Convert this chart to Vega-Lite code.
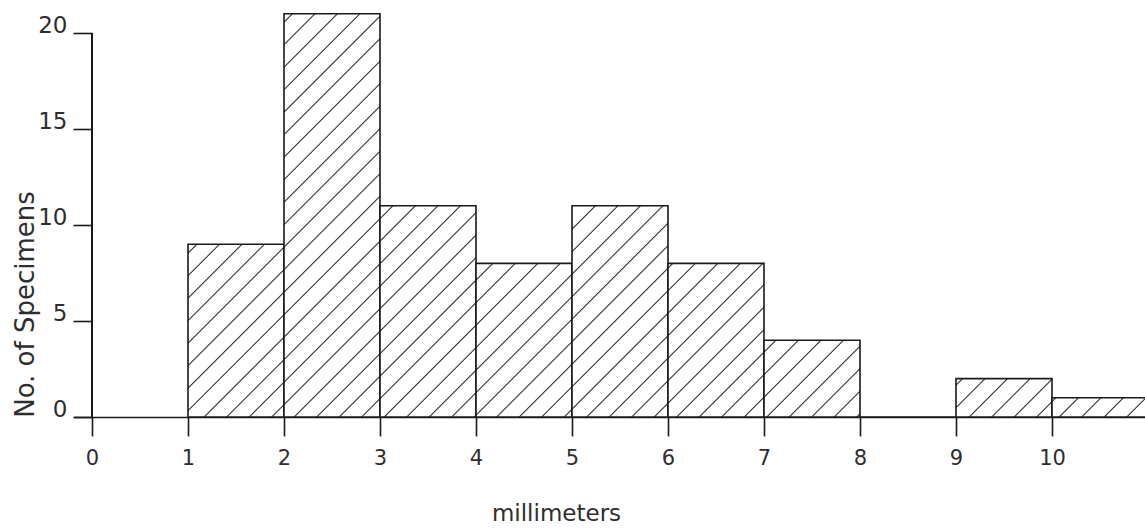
{
  "$schema": "https://vega.github.io/schema/vega-lite/v6.json",
  "width": 1071,
  "height": 413,
  "autosize": {"type": "none"},
  "padding": {"left": 74, "top": 4, "right": 0, "bottom": 115},
  "background": "white",
  "config": {
    "view": {"stroke": null},
    "axis": {
      "grid": false,
      "labelFont": "DejaVu Sans",
      "titleFont": "DejaVu Sans",
      "labelColor": "#2e2e2e",
      "titleColor": "#2e2e2e",
      "tickColor": "#1a1a1a",
      "domainColor": "#1a1a1a",
      "tickWidth": 1.6,
      "domainWidth": 1.6,
      "labelFontWeight": "normal",
      "titleFontWeight": "normal"
    }
  },
  "data": {
    "values": [
      {"start": 1, "end": 2, "count": 9},
      {"start": 2, "end": 3, "count": 21},
      {"start": 3, "end": 4, "count": 11},
      {"start": 4, "end": 5, "count": 8},
      {"start": 5, "end": 6, "count": 11},
      {"start": 6, "end": 7, "count": 8},
      {"start": 7, "end": 8, "count": 4},
      {"start": 8, "end": 9, "count": 0},
      {"start": 9, "end": 10, "count": 2},
      {"start": 10, "end": 11, "count": 1}
    ]
  },
  "layer": [
    {
      "mark": {"type": "bar", "stroke": "#1a1a1a", "strokeWidth": 1.6, "clip": true},
      "encoding": {
        "x": {
          "field": "start",
          "type": "quantitative",
          "scale": {"domain": [-0.1875, 10.96875], "nice": false, "zero": false},
          "axis": {
            "values": [0, 1, 2, 3, 4, 5, 6, 7, 8, 9, 10],
            "format": "d",
            "title": "millimeters",
            "tickSize": 19,
            "labelPadding": 11,
            "labelFontSize": 21,
            "labelFlush": false,
            "titleFontSize": 23,
            "titleX": 482,
            "titleY": 103,
            "titleBaseline": "alphabetic",
            "titleAlign": "center"
          }
        },
        "x2": {"field": "end"},
        "y": {
          "field": "count",
          "type": "quantitative",
          "scale": {"domain": [0, 21.5104167], "nice": false},
          "axis": {
            "values": [0, 5, 10, 15, 20],
            "format": "d",
            "title": "No. of Specimens",
            "domain": false,
            "offset": -18,
            "tickSize": 19,
            "labelPadding": 6,
            "labelOffset": -8,
            "labelFontSize": 23,
            "titleFontSize": 26,
            "titleX": -59,
            "titleY": 300,
            "titleAngle": 270,
            "titleBaseline": "alphabetic",
            "titleAlign": "center"
          }
        },
        "y2": {"datum": 0},
        "fill": {
          "condition": [
            {"test": "datum.start === 1", "value": {"gradient": "linear", "x1": 0, "y1": 0, "x2": 0.66038, "y2": 1.18868, "stops": [
              {"offset": 0.0283, "color": "white"}, {"offset": 0.0335, "color": "#1e1e1e"}, {"offset": 0.0387, "color": "white"},
              {"offset": 0.1120, "color": "white"}, {"offset": 0.1172, "color": "#1e1e1e"}, {"offset": 0.1224, "color": "white"},
              {"offset": 0.1957, "color": "white"}, {"offset": 0.2009, "color": "#1e1e1e"}, {"offset": 0.2061, "color": "white"},
              {"offset": 0.2794, "color": "white"}, {"offset": 0.2846, "color": "#1e1e1e"}, {"offset": 0.2898, "color": "white"},
              {"offset": 0.3631, "color": "white"}, {"offset": 0.3683, "color": "#1e1e1e"}, {"offset": 0.3735, "color": "white"},
              {"offset": 0.4468, "color": "white"}, {"offset": 0.4520, "color": "#1e1e1e"}, {"offset": 0.4572, "color": "white"},
              {"offset": 0.5305, "color": "white"}, {"offset": 0.5357, "color": "#1e1e1e"}, {"offset": 0.5409, "color": "white"},
              {"offset": 0.6142, "color": "white"}, {"offset": 0.6194, "color": "#1e1e1e"}, {"offset": 0.6246, "color": "white"},
              {"offset": 0.6979, "color": "white"}, {"offset": 0.7031, "color": "#1e1e1e"}, {"offset": 0.7083, "color": "white"},
              {"offset": 0.7816, "color": "white"}, {"offset": 0.7868, "color": "#1e1e1e"}, {"offset": 0.7920, "color": "white"},
              {"offset": 0.8653, "color": "white"}, {"offset": 0.8705, "color": "#1e1e1e"}, {"offset": 0.8757, "color": "white"},
              {"offset": 0.9490, "color": "white"}, {"offset": 0.9542, "color": "#1e1e1e"}, {"offset": 0.9594, "color": "white"}
            ]}},
            {"test": "datum.start === 2", "value": {"gradient": "linear", "x1": 0, "y1": 0, "x2": 0.27897, "y2": 1.17167, "stops": [
              {"offset": 0.0140, "color": "white"}, {"offset": 0.0168, "color": "#1e1e1e"}, {"offset": 0.0196, "color": "white"},
              {"offset": 0.0591, "color": "white"}, {"offset": 0.0619, "color": "#1e1e1e"}, {"offset": 0.0647, "color": "white"},
              {"offset": 0.1042, "color": "white"}, {"offset": 0.1070, "color": "#1e1e1e"}, {"offset": 0.1098, "color": "white"},
              {"offset": 0.1492, "color": "white"}, {"offset": 0.1520, "color": "#1e1e1e"}, {"offset": 0.1548, "color": "white"},
              {"offset": 0.1943, "color": "white"}, {"offset": 0.1971, "color": "#1e1e1e"}, {"offset": 0.1999, "color": "white"},
              {"offset": 0.2394, "color": "white"}, {"offset": 0.2422, "color": "#1e1e1e"}, {"offset": 0.2450, "color": "white"},
              {"offset": 0.2845, "color": "white"}, {"offset": 0.2873, "color": "#1e1e1e"}, {"offset": 0.2901, "color": "white"},
              {"offset": 0.3295, "color": "white"}, {"offset": 0.3323, "color": "#1e1e1e"}, {"offset": 0.3351, "color": "white"},
              {"offset": 0.3746, "color": "white"}, {"offset": 0.3774, "color": "#1e1e1e"}, {"offset": 0.3802, "color": "white"},
              {"offset": 0.4197, "color": "white"}, {"offset": 0.4225, "color": "#1e1e1e"}, {"offset": 0.4253, "color": "white"},
              {"offset": 0.4648, "color": "white"}, {"offset": 0.4676, "color": "#1e1e1e"}, {"offset": 0.4704, "color": "white"},
              {"offset": 0.5098, "color": "white"}, {"offset": 0.5126, "color": "#1e1e1e"}, {"offset": 0.5154, "color": "white"},
              {"offset": 0.5549, "color": "white"}, {"offset": 0.5577, "color": "#1e1e1e"}, {"offset": 0.5605, "color": "white"},
              {"offset": 0.6000, "color": "white"}, {"offset": 0.6028, "color": "#1e1e1e"}, {"offset": 0.6056, "color": "white"},
              {"offset": 0.6450, "color": "white"}, {"offset": 0.6478, "color": "#1e1e1e"}, {"offset": 0.6506, "color": "white"},
              {"offset": 0.6901, "color": "white"}, {"offset": 0.6929, "color": "#1e1e1e"}, {"offset": 0.6957, "color": "white"},
              {"offset": 0.7352, "color": "white"}, {"offset": 0.7380, "color": "#1e1e1e"}, {"offset": 0.7408, "color": "white"},
              {"offset": 0.7803, "color": "white"}, {"offset": 0.7831, "color": "#1e1e1e"}, {"offset": 0.7859, "color": "white"},
              {"offset": 0.8253, "color": "white"}, {"offset": 0.8281, "color": "#1e1e1e"}, {"offset": 0.8309, "color": "white"},
              {"offset": 0.8704, "color": "white"}, {"offset": 0.8732, "color": "#1e1e1e"}, {"offset": 0.8760, "color": "white"},
              {"offset": 0.9155, "color": "white"}, {"offset": 0.9183, "color": "#1e1e1e"}, {"offset": 0.9211, "color": "white"},
              {"offset": 0.9605, "color": "white"}, {"offset": 0.9633, "color": "#1e1e1e"}, {"offset": 0.9661, "color": "white"}
            ]}},
            {"test": "datum.start === 3", "value": {"gradient": "linear", "x1": 0, "y1": 0, "x2": 0.54795, "y2": 1.20548, "stops": [
              {"offset": 0.0374, "color": "white"}, {"offset": 0.0420, "color": "#1e1e1e"}, {"offset": 0.0466, "color": "white"},
              {"offset": 0.1106, "color": "white"}, {"offset": 0.1152, "color": "#1e1e1e"}, {"offset": 0.1198, "color": "white"},
              {"offset": 0.1839, "color": "white"}, {"offset": 0.1885, "color": "#1e1e1e"}, {"offset": 0.1931, "color": "white"},
              {"offset": 0.2571, "color": "white"}, {"offset": 0.2617, "color": "#1e1e1e"}, {"offset": 0.2663, "color": "white"},
              {"offset": 0.3304, "color": "white"}, {"offset": 0.3350, "color": "#1e1e1e"}, {"offset": 0.3396, "color": "white"},
              {"offset": 0.4036, "color": "white"}, {"offset": 0.4082, "color": "#1e1e1e"}, {"offset": 0.4128, "color": "white"},
              {"offset": 0.4768, "color": "white"}, {"offset": 0.4814, "color": "#1e1e1e"}, {"offset": 0.4860, "color": "white"},
              {"offset": 0.5501, "color": "white"}, {"offset": 0.5547, "color": "#1e1e1e"}, {"offset": 0.5593, "color": "white"},
              {"offset": 0.6233, "color": "white"}, {"offset": 0.6279, "color": "#1e1e1e"}, {"offset": 0.6325, "color": "white"},
              {"offset": 0.6966, "color": "white"}, {"offset": 0.7012, "color": "#1e1e1e"}, {"offset": 0.7058, "color": "white"},
              {"offset": 0.7698, "color": "white"}, {"offset": 0.7744, "color": "#1e1e1e"}, {"offset": 0.7790, "color": "white"},
              {"offset": 0.8431, "color": "white"}, {"offset": 0.8477, "color": "#1e1e1e"}, {"offset": 0.8523, "color": "white"},
              {"offset": 0.9163, "color": "white"}, {"offset": 0.9209, "color": "#1e1e1e"}, {"offset": 0.9255, "color": "white"},
              {"offset": 0.9895, "color": "white"}, {"offset": 0.9941, "color": "#1e1e1e"}, {"offset": 0.9987, "color": "white"}
            ]}},
            {"test": "datum.start === 4", "value": {"gradient": "linear", "x1": 0, "y1": 0, "x2": 0.73034, "y2": 1.16854, "stops": [
              {"offset": 0.0617, "color": "white"}, {"offset": 0.0673, "color": "#1e1e1e"}, {"offset": 0.0729, "color": "white"},
              {"offset": 0.1518, "color": "white"}, {"offset": 0.1574, "color": "#1e1e1e"}, {"offset": 0.1630, "color": "white"},
              {"offset": 0.2420, "color": "white"}, {"offset": 0.2476, "color": "#1e1e1e"}, {"offset": 0.2532, "color": "white"},
              {"offset": 0.3321, "color": "white"}, {"offset": 0.3377, "color": "#1e1e1e"}, {"offset": 0.3433, "color": "white"},
              {"offset": 0.4223, "color": "white"}, {"offset": 0.4279, "color": "#1e1e1e"}, {"offset": 0.4335, "color": "white"},
              {"offset": 0.5124, "color": "white"}, {"offset": 0.5180, "color": "#1e1e1e"}, {"offset": 0.5236, "color": "white"},
              {"offset": 0.6026, "color": "white"}, {"offset": 0.6082, "color": "#1e1e1e"}, {"offset": 0.6138, "color": "white"},
              {"offset": 0.6927, "color": "white"}, {"offset": 0.6983, "color": "#1e1e1e"}, {"offset": 0.7039, "color": "white"},
              {"offset": 0.7829, "color": "white"}, {"offset": 0.7885, "color": "#1e1e1e"}, {"offset": 0.7941, "color": "white"},
              {"offset": 0.8730, "color": "white"}, {"offset": 0.8786, "color": "#1e1e1e"}, {"offset": 0.8842, "color": "white"},
              {"offset": 0.9632, "color": "white"}, {"offset": 0.9688, "color": "#1e1e1e"}, {"offset": 0.9744, "color": "white"}
            ]}},
            {"test": "datum.start === 5", "value": {"gradient": "linear", "x1": 0, "y1": 0, "x2": 0.54795, "y2": 1.20548, "stops": [
              {"offset": 0.0716, "color": "white"}, {"offset": 0.0762, "color": "#1e1e1e"}, {"offset": 0.0808, "color": "white"},
              {"offset": 0.1448, "color": "white"}, {"offset": 0.1494, "color": "#1e1e1e"}, {"offset": 0.1540, "color": "white"},
              {"offset": 0.2181, "color": "white"}, {"offset": 0.2227, "color": "#1e1e1e"}, {"offset": 0.2273, "color": "white"},
              {"offset": 0.2913, "color": "white"}, {"offset": 0.2959, "color": "#1e1e1e"}, {"offset": 0.3005, "color": "white"},
              {"offset": 0.3646, "color": "white"}, {"offset": 0.3691, "color": "#1e1e1e"}, {"offset": 0.3737, "color": "white"},
              {"offset": 0.4378, "color": "white"}, {"offset": 0.4424, "color": "#1e1e1e"}, {"offset": 0.4470, "color": "white"},
              {"offset": 0.5110, "color": "white"}, {"offset": 0.5156, "color": "#1e1e1e"}, {"offset": 0.5202, "color": "white"},
              {"offset": 0.5843, "color": "white"}, {"offset": 0.5889, "color": "#1e1e1e"}, {"offset": 0.5935, "color": "white"},
              {"offset": 0.6575, "color": "white"}, {"offset": 0.6621, "color": "#1e1e1e"}, {"offset": 0.6667, "color": "white"},
              {"offset": 0.7308, "color": "white"}, {"offset": 0.7354, "color": "#1e1e1e"}, {"offset": 0.7400, "color": "white"},
              {"offset": 0.8040, "color": "white"}, {"offset": 0.8086, "color": "#1e1e1e"}, {"offset": 0.8132, "color": "white"},
              {"offset": 0.8772, "color": "white"}, {"offset": 0.8818, "color": "#1e1e1e"}, {"offset": 0.8864, "color": "white"},
              {"offset": 0.9505, "color": "white"}, {"offset": 0.9551, "color": "#1e1e1e"}, {"offset": 0.9597, "color": "white"}
            ]}},
            {"test": "datum.start === 6", "value": {"gradient": "linear", "x1": 0, "y1": 0, "x2": 0.73034, "y2": 1.16854, "stops": [
              {"offset": 0.0136, "color": "white"}, {"offset": 0.0192, "color": "#1e1e1e"}, {"offset": 0.0248, "color": "white"},
              {"offset": 0.1038, "color": "white"}, {"offset": 0.1094, "color": "#1e1e1e"}, {"offset": 0.1150, "color": "white"},
              {"offset": 0.1939, "color": "white"}, {"offset": 0.1995, "color": "#1e1e1e"}, {"offset": 0.2051, "color": "white"},
              {"offset": 0.2841, "color": "white"}, {"offset": 0.2897, "color": "#1e1e1e"}, {"offset": 0.2953, "color": "white"},
              {"offset": 0.3742, "color": "white"}, {"offset": 0.3798, "color": "#1e1e1e"}, {"offset": 0.3854, "color": "white"},
              {"offset": 0.4644, "color": "white"}, {"offset": 0.4700, "color": "#1e1e1e"}, {"offset": 0.4756, "color": "white"},
              {"offset": 0.5545, "color": "white"}, {"offset": 0.5601, "color": "#1e1e1e"}, {"offset": 0.5657, "color": "white"},
              {"offset": 0.6447, "color": "white"}, {"offset": 0.6502, "color": "#1e1e1e"}, {"offset": 0.6558, "color": "white"},
              {"offset": 0.7348, "color": "white"}, {"offset": 0.7404, "color": "#1e1e1e"}, {"offset": 0.7460, "color": "white"},
              {"offset": 0.8249, "color": "white"}, {"offset": 0.8305, "color": "#1e1e1e"}, {"offset": 0.8361, "color": "white"},
              {"offset": 0.9151, "color": "white"}, {"offset": 0.9207, "color": "#1e1e1e"}, {"offset": 0.9263, "color": "white"}
            ]}},
            {"test": "datum.start === 7", "value": {"gradient": "linear", "x1": 0, "y1": 0, "x2": 1.09756, "y2": 0.87805, "stops": [
              {"offset": 0.0613, "color": "white"}, {"offset": 0.0694, "color": "#1e1e1e"}, {"offset": 0.0775, "color": "white"},
              {"offset": 0.1915, "color": "white"}, {"offset": 0.1997, "color": "#1e1e1e"}, {"offset": 0.2078, "color": "white"},
              {"offset": 0.3218, "color": "white"}, {"offset": 0.3299, "color": "#1e1e1e"}, {"offset": 0.3380, "color": "white"},
              {"offset": 0.4520, "color": "white"}, {"offset": 0.4601, "color": "#1e1e1e"}, {"offset": 0.4682, "color": "white"},
              {"offset": 0.5822, "color": "white"}, {"offset": 0.5903, "color": "#1e1e1e"}, {"offset": 0.5984, "color": "white"},
              {"offset": 0.7124, "color": "white"}, {"offset": 0.7205, "color": "#1e1e1e"}, {"offset": 0.7286, "color": "white"},
              {"offset": 0.8426, "color": "white"}, {"offset": 0.8507, "color": "#1e1e1e"}, {"offset": 0.8588, "color": "white"},
              {"offset": 0.9728, "color": "white"}, {"offset": 0.9809, "color": "#1e1e1e"}, {"offset": 0.9890, "color": "white"}
            ]}},
            {"test": "datum.start === 9", "value": {"gradient": "linear", "x1": 0, "y1": 0, "x2": 1.20690, "y2": 0.48276, "stops": [
              {"offset": 0.0387, "color": "white"}, {"offset": 0.0491, "color": "#1e1e1e"}, {"offset": 0.0595, "color": "white"},
              {"offset": 0.2061, "color": "white"}, {"offset": 0.2165, "color": "#1e1e1e"}, {"offset": 0.2269, "color": "white"},
              {"offset": 0.3735, "color": "white"}, {"offset": 0.3839, "color": "#1e1e1e"}, {"offset": 0.3943, "color": "white"},
              {"offset": 0.5409, "color": "white"}, {"offset": 0.5513, "color": "#1e1e1e"}, {"offset": 0.5617, "color": "white"},
              {"offset": 0.7083, "color": "white"}, {"offset": 0.7188, "color": "#1e1e1e"}, {"offset": 0.7292, "color": "white"},
              {"offset": 0.8758, "color": "white"}, {"offset": 0.8862, "color": "#1e1e1e"}, {"offset": 0.8966, "color": "white"}
            ]}},
            {"test": "datum.start === 10", "value": {"gradient": "linear", "x1": 0, "y1": 0, "x2": 1.15385, "y2": 0.23077, "stops": [
              {"offset": 0.0217, "color": "white"}, {"offset": 0.0339, "color": "#1e1e1e"}, {"offset": 0.0461, "color": "white"},
              {"offset": 0.2170, "color": "white"}, {"offset": 0.2292, "color": "#1e1e1e"}, {"offset": 0.2414, "color": "white"},
              {"offset": 0.4123, "color": "white"}, {"offset": 0.4245, "color": "#1e1e1e"}, {"offset": 0.4367, "color": "white"},
              {"offset": 0.6076, "color": "white"}, {"offset": 0.6198, "color": "#1e1e1e"}, {"offset": 0.6320, "color": "white"},
              {"offset": 0.8029, "color": "white"}, {"offset": 0.8151, "color": "#1e1e1e"}, {"offset": 0.8273, "color": "white"}
            ]}}
          ],
          "value": "white"
        }
      }
    },
    {
      "mark": {"type": "rule", "stroke": "#1a1a1a", "strokeWidth": 1.6},
      "encoding": {
        "x": {"datum": 0},
        "y": {"datum": 0},
        "y2": {"datum": 20}
      }
    }
  ]
}
